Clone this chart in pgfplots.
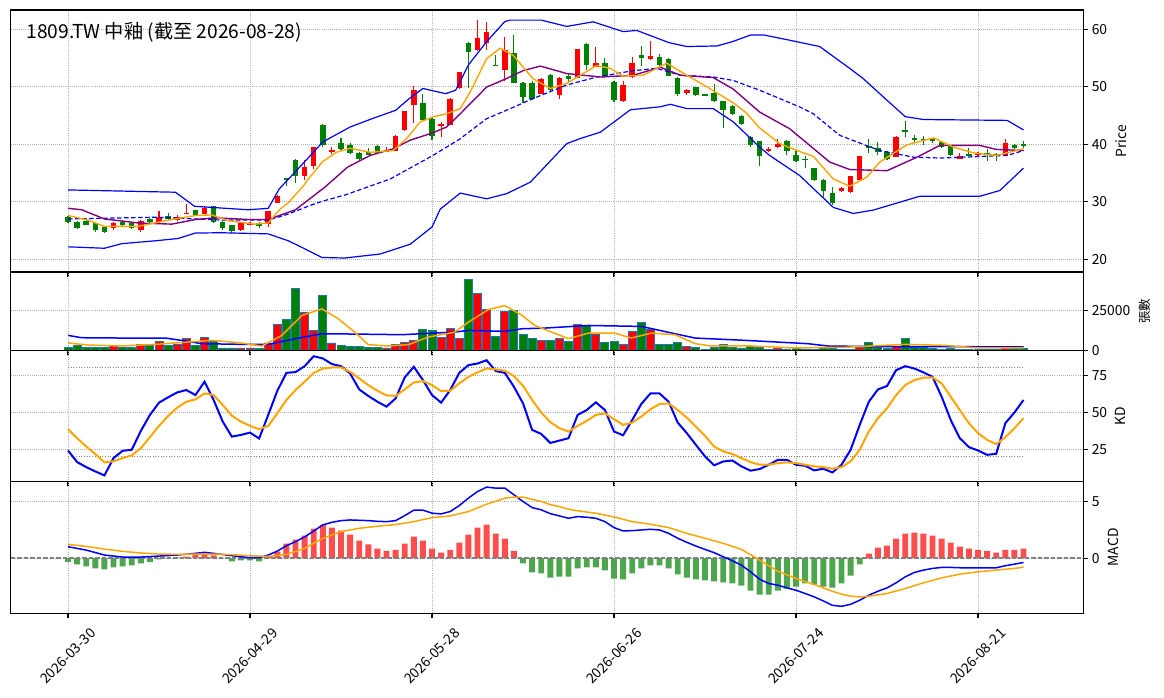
\documentclass[border=0pt]{standalone}
\usepackage{fontspec}
\setmainfont{Noto Sans CJK TC}
\usepackage{pgfplots}
\usepackage{pgfplotstable}
\pgfplotsset{compat=1.18}
\definecolor{cred}{RGB}{255,0,0}
\definecolor{cgreen}{RGB}{0,128,0}
\definecolor{corange}{RGB}{255,165,0}
\definecolor{cpurple}{RGB}{128,0,128}
\definecolor{cblue}{RGB}{0,0,255}
\definecolor{cedge}{RGB}{31,119,180}
\definecolor{hred}{RGB}{255,77,77}
\definecolor{hgreen}{RGB}{77,166,77}
\definecolor{gridc}{RGB}{176,176,176}
\newcommand\tf{\fontsize{13.9pt}{16pt}\selectfont}

\pgfplotstableread{
i o h l c v
0 27.3 27.5 26.3 26.5 1900
1 26.5 26.6 25.2 25.4 3100
2 26.7 26.9 25.9 26.0 1900
3 26.3 26.4 24.8 25.0 1900
4 25.6 25.7 24.5 24.7 1900
5 25.4 26.5 25.1 26.3 3100
6 26.4 26.9 25.8 25.9 1900
7 26.3 26.5 25.3 25.5 1900
8 25.0 26.8 24.7 26.7 3750
9 27.0 27.2 26.3 26.4 3100
10 26.4 28.4 26.3 27.4 5600
11 27.6 28.1 26.9 27.0 3100
12 26.9 27.7 26.6 27.3 3750
13 27.9 29.6 27.9 28.0 7300
14 28.5 28.6 27.5 27.6 3100
15 27.9 29.2 27.8 28.9 8100
16 29.2 29.3 26.3 26.5 5600
17 26.5 26.6 25.1 25.4 1450
18 25.9 26.0 24.5 24.95 1450
19 25.05 26.5 24.9 26.4 1450
20 26.0 26.5 25.9 26.3 1450
21 26.3 26.4 25.5 25.7 1050
22 26.1 28.4 25.6 28.3 4600
23 29.8 31.1 29.7 31.0 16250
24 34.05 34.1 32.8 33.95 19400
25 37.3 37.4 33.3 34.4 38950
26 34.4 37.2 33.7 36.0 23750
27 36.2 39.6 35.7 39.5 12500
28 43.4 43.6 39.6 39.9 34400
29 38.8 39.6 38.3 39.0 4600
30 40.3 41.0 39.0 39.1 3100
31 39.9 40.3 38.3 38.4 2500
32 38.5 38.6 37.0 37.5 2500
33 38.6 39.3 38.1 38.2 1900
34 39.7 39.8 38.3 38.4 1900
35 38.8 39.6 38.7 39.0 1450
36 38.9 41.6 38.8 41.5 3750
37 42.4 45.8 42.3 45.7 5000
38 46.8 50.1 43.7 49.4 6450
39 47.1 48.7 44.2 44.3 13100
40 44.4 44.5 40.8 41.5 12500
41 43.1 43.9 41.2 43.6 8100
42 43.4 48.0 43.3 47.9 13750
43 49.7 52.6 49.6 52.5 7300
44 57.7 57.8 49.7 56.0 44350
45 56.4 61.6 56.3 58.4 36000
46 57.7 61.2 56.4 59.5 25400
47 53.8 55.5 53.6 53.7 8750
48 52.9 58.6 51.0 56.4 24400
49 55.8 59.0 50.6 50.7 25000
50 50.7 50.8 47.1 48.2 10000
51 50.7 51.0 47.7 47.8 7500
52 48.8 51.5 48.7 51.4 6250
53 52.1 52.2 49.3 49.4 6250
54 48.5 51.7 47.9 51.6 7700
55 51.85 52.2 50.9 51.3 5600
56 51.6 56.6 51.5 56.5 16250
57 57.4 57.7 53.0 53.8 15600
58 53.5 56.9 53.4 54.2 10000
59 54.2 55.0 51.6 51.7 5000
60 50.9 51.0 47.4 47.7 5600
61 47.5 51.0 47.4 50.3 3750
62 51.7 55.2 51.6 54.2 11900
63 55.5 57.1 53.7 55.05 17500
64 54.8 57.9 54.7 55.3 13100
65 55.2 55.7 53.7 53.8 3750
66 54.9 55.0 51.8 51.9 3750
67 51.6 51.7 48.4 48.7 5000
68 49.0 49.6 48.5 49.5 2500
69 49.9 50.0 48.4 48.5 1900
70 48.7 48.8 48.5 48.6 300
71 49.0 50.4 47.4 47.5 1900
72 47.5 47.6 42.9 46.0 3750
73 46.7 46.8 45.1 45.2 1900
74 45.0 45.1 43.4 43.5 1450
75 41.3 41.4 39.5 39.8 2500
76 40.5 40.6 36.2 37.9 1900
77 38.75 39.5 38.7 39.2 600
78 39.5 40.9 39.4 40.1 1250
79 40.6 40.7 38.2 38.9 600
80 38.2 38.9 36.9 37.0 1250
81 37.4 37.9 35.8 37.3 600
82 35.8 35.9 33.6 33.7 600
83 33.8 34.0 30.9 31.9 1900
84 31.5 32.5 29.5 29.8 1250
85 31.9 32.5 31.7 32.4 600
86 31.75 34.5 31.6 34.4 600
87 33.7 38.0 33.6 37.95 1900
88 39.7 40.9 38.4 39.5 5000
89 39.3 40.4 38.1 38.6 1900
90 38.6 38.9 37.3 37.4 1250
91 37.8 41.4 37.7 41.3 2500
92 42.4 44.0 41.3 42.1 7500
93 41.0 41.6 40.4 40.7 1900
94 40.9 41.4 39.9 40.8 1900
95 40.9 41.0 40.3 40.6 1250
96 40.4 40.5 39.3 39.5 600
97 39.7 39.8 38.0 38.05 1250
98 37.5 38.5 37.4 37.9 600
99 38.3 39.4 38.0 38.05 600
100 38.05 38.6 37.9 38.5 600
101 38.5 39.2 37.1 38.2 600
102 38.3 38.4 37.1 38.2 600
103 37.95 40.9 37.9 40.2 1250
104 39.9 40.1 39.2 39.3 1250
105 40.1 40.5 39.3 39.8 1250
}\candles

\pgfplotstableread{
i k d h
0 24.2 38.6 -0.33
1 16.4 32.5 -0.57
2 13.0 26.9 -0.74
3 10.1 21.8 -0.92
4 7.4 16.2 -1.01
5 19.1 16.9 -0.83
6 24.0 19.1 -0.74
7 24.7 20.9 -0.65
8 37.4 25.8 -0.48
9 48.2 33.2 -0.36
10 56.5 40.8 -0.12
11 60.1 47.5 -0.03
12 63.4 53.1 0.03
13 65.0 57.1 0.12
14 61.6 58.7 0.27
15 70.6 62.7 0.42
16 58.3 61.6 0.24
17 43.7 54.9 0.02
18 33.6 47.7 -0.30
19 34.7 43.7 -0.21
20 36.3 40.8 -0.21
21 32.3 38.6 -0.30
22 48.2 40.8 0.12
23 64.5 49.3 0.57
24 76.6 58.3 1.28
25 77.1 65.0 1.64
26 81.1 70.6 1.99
27 87.8 76.6 2.62
28 86.3 79.5 2.95
29 82.5 80.2 2.71
30 81.1 80.2 2.44
31 76.2 77.3 2.08
32 65.4 72.8 1.55
33 61.0 68.3 1.22
34 57.1 64.5 0.83
35 53.8 61.4 0.65
36 59.4 61.0 0.74
37 73.5 65.4 1.28
38 80.7 70.1 1.90
39 71.7 71.0 1.55
40 61.6 68.3 0.83
41 56.5 64.3 0.48
42 65.0 64.5 0.74
43 76.6 69.5 1.37
44 81.8 73.9 2.08
45 82.9 76.9 2.71
46 85.1 79.5 2.98
47 77.8 78.9 2.17
48 76.6 78.0 1.73
49 67.2 74.4 0.65
50 56.0 67.9 -0.48
51 38.1 58.3 -1.28
52 35.4 49.8 -1.37
53 29.3 43.4 -1.73
54 30.9 39.2 -1.64
55 32.5 37.0 -1.64
56 48.2 40.8 -0.92
57 51.5 44.2 -0.83
58 56.7 48.2 -0.83
59 51.5 49.3 -1.10
60 37.0 45.3 -1.82
61 34.5 41.5 -1.90
62 44.8 43.0 -1.37
63 55.6 47.1 -0.92
64 62.7 52.0 -0.65
65 62.7 55.6 -0.65
66 57.1 56.0 -0.92
67 43.0 51.5 -1.46
68 35.9 46.4 -1.73
69 28.0 40.3 -1.90
70 20.2 34.1 -1.99
71 14.2 26.9 -2.08
72 16.8 23.6 -2.17
73 17.5 21.8 -2.26
74 13.5 19.1 -2.44
75 10.6 16.4 -2.89
76 11.7 14.6 -3.24
77 14.6 14.6 -3.24
78 17.9 15.7 -2.89
79 17.9 16.2 -2.71
80 14.6 15.7 -2.53
81 13.9 14.6 -2.26
82 10.8 13.5 -2.35
83 11.9 13.0 -2.53
84 9.4 11.9 -2.62
85 14.6 13.0 -2.26
86 24.7 16.9 -1.55
87 41.5 24.7 -0.57
88 57.1 37.0 0.39
89 65.4 46.0 0.92
90 67.7 52.7 1.10
91 78.4 61.6 1.73
92 81.1 68.3 2.17
93 79.5 71.7 2.26
94 76.9 73.3 2.17
95 73.9 73.5 1.99
96 60.5 69.5 1.73
97 44.8 60.5 1.37
98 32.5 51.5 1.01
99 26.5 42.6 0.83
100 24.2 35.9 0.74
101 21.3 31.4 0.65
102 22.0 28.5 0.48
103 42.6 33.2 0.74
104 49.8 39.2 0.74
105 58.3 46.0 0.83
}\ind

\pgfplotsset{
 base/.style={
  scale only axis, width=1072.6pt,
  anchor=north west,
  xmin=-6.30, xmax=111.57,
  xtick={0,20,40,60,80,100},
  ytick pos=right, yticklabel pos=right,
  xtick pos=left,
  scaled y ticks=false,
  tick align=outside, major tick length=4.9pt,
  tick style={black, line width=1.1pt},
  axis line style={line width=1.1pt},
  grid=major,
  grid style={gridc, line width=0.8pt, dash pattern=on 0.8pt off 1.3pt},
  ticklabel style={font=\tf},
  label style={font=\tf},
 },
 candle/.style n args={2}{draw=none, mark=none, forget plot,
  error bars/.cd, y dir=both, y explicit, error mark=none,
  error bar style={draw=#1, line width=#2}},
}

\begin{document}
\begin{tikzpicture}
\path[use as bounding box] (0,0) rectangle (1164pt,698pt);

% ---------------- price ----------------
\begin{axis}[base, at={(10.7pt,688pt)}, height=262pt,
  ymin=17.77, ymax=63.36, ytick={20,30,40,50,60}, yticklabels={20,30,40,50,60},
  xticklabels={},
  ylabel={Price}, ylabel style={at={(axis description cs:1.0351,0.5)}, anchor=center}]
% candles up
\addplot[restrict expr to domain={\thisrow{c}-\thisrow{o}}{0:100}, candle={cred}{1.1pt}]
  table[x=i, y expr={(\thisrow{h}+\thisrow{l})/2}, y error expr={(\thisrow{h}-\thisrow{l})/2}] {\candles};
\addplot[restrict expr to domain={\thisrow{c}-\thisrow{o}}{0:100}, candle={cred}{5.5pt}]
  table[x=i, y expr={(\thisrow{o}+\thisrow{c})/2}, y error expr={max(abs(\thisrow{c}-\thisrow{o})/2,0.05)}] {\candles};
% candles down
\addplot[restrict expr to domain={\thisrow{c}-\thisrow{o}}{-100:-0.00001}, candle={cgreen}{1.1pt}]
  table[x=i, y expr={(\thisrow{h}+\thisrow{l})/2}, y error expr={(\thisrow{h}-\thisrow{l})/2}] {\candles};
\addplot[restrict expr to domain={\thisrow{c}-\thisrow{o}}{-100:-0.00001}, candle={cgreen}{5.5pt}]
  table[x=i, y expr={(\thisrow{o}+\thisrow{c})/2}, y error expr={max(abs(\thisrow{c}-\thisrow{o})/2,0.05)}] {\candles};
% Bollinger upper
\addplot[cblue, line width=1.2pt, no marks] coordinates {
(0,32.05) (11.8,31.65) (13.9,29.2) (19.8,28.6) (22,28.85) (23.2,32.2) (25.8,36.6) (28,40.4) (31,43.0) (33.5,44.5) (36,45.9) (37.5,47.95) (39,49.7) (41.5,48.8) (42.6,49.4) (44,53.8) (46,57.85) (48,61.35) (48.6,61.6) (52,61.6) (54.8,60.5) (57.7,61.3) (61,59.6) (62.5,59.8) (66,57.7) (68,57.0) (71.3,57.1) (73,57.85) (75,59.0) (76.5,59.0) (79.3,58.1) (82.6,57.0) (85.9,53.2) (87.4,51.4) (90,47.65) (92,44.8) (94,44.3) (103.2,44.15) (105,42.5)};
% Bollinger lower
\addplot[cblue, line width=1.2pt, no marks] coordinates {
(0,22.15) (4,21.9) (5.9,22.7) (9.6,23.2) (12.1,23.6) (14,24.55) (16.9,24.6) (22,24.4) (24.2,23.2) (25.7,22.05) (27.9,20.3) (30.4,20.2) (34.3,20.9) (37.6,22.6) (40,25.6) (40.9,28.7) (43.1,31.5) (46,30.5) (48.2,31.4) (50.8,33.4) (54.8,40.1) (56.3,41.0) (58.5,42.1) (61.8,46.0) (65,46.5) (66.2,46.95) (68,46.2) (70.9,46.2) (73.1,43.9) (76,39.5) (77.1,38.05) (80.4,34.55) (84.1,29.0) (86.3,27.95) (88.5,28.55) (93.6,30.95) (100.2,30.95) (102.4,31.95) (105,35.85)};
% MA20 dashed
\addplot[cblue, line width=1.2pt, no marks, dash pattern=on 4.5pt off 2.5pt] coordinates {
(0,27.0) (9.6,27.3) (17,26.8) (22,26.8) (24.2,27.85) (26.6,29.35) (28,30.1) (30.5,31.2) (35.4,33.95) (40.1,38.05) (43.1,40.96) (46,44.45) (48.6,46.2) (51.1,47.95) (54.8,50.3) (58.1,51.7) (62.1,52.8) (64.7,53.2) (67.3,52.0) (70.9,51.7) (73.1,51.1) (76,49.4) (80.4,46.5) (81.9,45.3) (84.8,41.55) (86.7,40.4) (89.2,38.9) (92.9,37.75) (95.8,37.6) (103.2,38.05) (105,38.9)};
% MA10 purple
\addplot[cpurple, line width=1.4pt, no marks] coordinates {
(0,28.85) (1.5,28.6) (4,27.0) (7.7,26.3) (11.4,26.1) (14,26.9) (16.2,27.2) (19.8,26.9) (22,26.9) (25,28.6) (28.2,32.5) (30.7,36.0) (33.2,38.05) (35.7,39.2) (37.6,40.7) (40.1,42.0) (41.6,43.0) (43.1,45.3) (46,49.95) (48,51.3) (50,52.8) (51.9,53.6) (54.8,52.3) (58.5,51.7) (62.1,52.0) (65.1,53.4) (67.3,52.0) (70.9,51.6) (73.1,49.6) (76,45.6) (79.3,42.7) (83.7,36.9) (85.9,35.6) (90,35.4) (93.3,37.75) (95.8,39.8) (100.2,39.8) (102,39.1) (105,38.9)};
% MA5 orange
\addplot[corange, line width=1.4pt, no marks] coordinates {
(0,27.6) (2.2,26.8) (4,25.7) (7.7,25.7) (10.7,26.7) (14,27.6) (15.8,27.7) (17.6,26.7) (20.5,26.1) (22,26.3) (23.3,28.7) (24.2,29.8) (25.9,32.8) (26.4,33.95) (28,37.0) (29.5,38.6) (31,39.3) (33.2,38.6) (35.7,38.9) (37.2,40.96) (38.7,43.9) (40.2,44.8) (41.6,45.3) (43.1,46.2) (44.2,49.1) (46,54.9) (47.5,56.7) (48.9,55.5) (51.1,51.4) (53,49.7) (54.8,50.6) (56.6,52.3) (58.1,53.7) (59.6,53.2) (61,51.85) (63.2,52.0) (65.8,54.1) (68,52.0) (70.2,50.0) (73.1,47.2) (74.5,45.5) (76,42.85) (78.2,40.1) (80.8,38.5) (81.9,37.9) (84.1,33.95) (85.9,32.7) (87.8,34.3) (89.2,36.9) (92.2,39.9) (95.1,41.1) (97.3,39.5) (99.5,38.5) (102,38.05) (105,39.2)};
\node[anchor=west, inner sep=0pt, font=\fontsize{19.2pt}{21pt}\selectfont] at (rel axis cs:0.0145,0.915) {1809.TW 中釉 (截至 2026-08-28)};
\end{axis}

% ---------------- volume ----------------
\begin{axis}[base, at={(10.7pt,426pt)}, height=78.3pt,
  ymin=0, ymax=49200, ytick={0,25000}, yticklabels={0,25000},
  xticklabels={},
  ylabel={\fontsize{12.5pt}{14pt}\selectfont 張數}, ylabel style={at={(axis description cs:1.0575,0.5)}, anchor=center}]
\addplot[ybar, bar width=0.88, bar shift=0pt, fill=cred, draw=cedge, line width=0.9pt,
  restrict expr to domain={\thisrow{c}-\thisrow{o}}{0:100}] table[x=i, y=v] {\candles};
\addplot[ybar, bar width=0.88, bar shift=0pt, fill=cgreen, draw=cedge, line width=0.9pt,
  restrict expr to domain={\thisrow{c}-\thisrow{o}}{-100:-0.00001}] table[x=i, y=v] {\candles};
\addplot[cblue, line width=1.5pt, no marks] coordinates {
(0,9375) (1.5,7900) (5.9,7700) (10.7,7700) (13.2,5600) (14.7,4150) (19,3750) (22,3750) (25,7300) (27.9,10400) (31.5,10200) (36.7,9800) (42.5,11450) (44,12500) (48,11900) (49.9,13540) (52.4,13960) (57.2,15600) (63,15000) (66.7,10400) (68.9,7700) (74.4,6250) (81.3,4160) (83.5,2700) (89,2300) (96.4,2300) (105,2100)};
\addplot[corange, line width=1.5pt, no marks] coordinates {
(0,4600) (2.2,3300) (5.9,2700) (9.6,3750) (13.2,5200) (15.8,6250) (19,4600) (21.3,2700) (23.5,9375) (25.7,21900) (27.9,26000) (29.7,19800) (31.5,11450) (33,3540) (35.2,2700) (37.4,3540) (39.6,8300) (42.5,11450) (44,17700) (46.2,25600) (48,28100) (49.9,21900) (51.3,15600) (52.4,13100) (55,7300) (57.2,10800) (60.1,10800) (61.9,7700) (64.1,10800) (66.7,9800) (68.9,4160) (70.7,2700) (75.1,2700) (79.9,1460) (85.4,1900) (92,3750) (96.4,3100) (100,1460) (105,1460)};
\end{axis}

% ---------------- KD ----------------
\begin{axis}[base, at={(10.7pt,347.7pt)}, height=131.2pt,
  ymin=3.3, ymax=91.8, ytick={25,50,75}, yticklabels={25,50,75},
  xticklabels={},
  ylabel={KD}, ylabel style={at={(axis description cs:1.0342,0.5)}, anchor=center}]
\addplot[gray, line width=1pt, no marks, dash pattern=on 1pt off 1.65pt] coordinates {(0,80) (105,80)};
\addplot[gray, line width=1pt, no marks, dash pattern=on 1pt off 1.65pt] coordinates {(0,20) (105,20)};
\addplot[cblue, line width=2pt, no marks] table[x=i, y=k] {\ind};
\addplot[corange, line width=2pt, no marks] table[x=i, y=d] {\ind};
\end{axis}

% ---------------- MACD ----------------
\begin{axis}[base, at={(10.7pt,216.5pt)}, height=131.8pt,
  ymin=-4.91, ymax=6.81, ytick={0,5}, yticklabels={0,5},
  xticklabels={2026-03-30,2026-04-29,2026-05-28,2026-06-26,2026-07-24,2026-08-21},
  xticklabel style={anchor=center, yshift=-38pt, rotate=45},
  ylabel={MACD}, ylabel style={at={(axis description cs:1.0277,0.5)}, anchor=center}]
\addplot[ybar, bar width=0.65, bar shift=0pt, fill=hred, draw=none,
  restrict y to domain=0:100] table[x=i, y=h] {\ind};
\addplot[ybar, bar width=0.65, bar shift=0pt, fill=hgreen, draw=none,
  restrict y to domain=-100:0] table[x=i, y=h] {\ind};
\addplot[gray, line width=1.2pt, no marks, dash pattern=on 4.5pt off 2pt] coordinates {(-6.3,0) (111.57,0)};
\addplot[cblue, line width=1.5pt, no marks] coordinates {
(0,1.01) (2,0.71) (4,0.27) (6,0.09) (8,0.09) (10,0.18) (12,0.27) (14,0.42) (15,0.51) (16,0.42) (18,0.21) (20,0.03) (21,0.03) (22,0.27) (23,0.62) (24,1.10) (25,1.46) (26,1.88) (27,2.41) (28,2.95) (29,3.18) (30,3.33) (31,3.39) (32,3.36) (33,3.33) (34,3.27) (35,3.24) (36,3.33) (37,3.78) (38,4.26) (39,4.26) (40,3.99) (41,3.93) (42,4.14) (43,4.67) (44,5.33) (45,5.92) (46,6.31) (47,6.22) (48,6.22) (49,5.63) (50,5.03) (51,4.49) (52,4.29) (53,3.95) (54,3.75) (55,3.54) (56,3.69) (57,3.63) (58,3.54) (59,3.24) (60,2.71) (61,2.41) (62,2.44) (63,2.50) (64,2.56) (65,2.50) (66,2.20) (67,1.76) (68,1.40) (69,1.07) (70,0.77) (71,0.48) (72,0.12) (73,-0.24) (74,-0.63) (75,-1.22) (76,-1.88) (77,-2.26) (78,-2.41) (79,-2.65) (80,-2.86) (81,-3.15) (82,-3.45) (83,-3.81) (84,-4.20) (85,-4.29) (86,-4.11) (87,-3.75) (88,-3.30) (89,-2.95) (90,-2.65) (91,-2.20) (92,-1.67) (93,-1.28) (94,-1.07) (95,-0.92) (96,-0.83) (97,-0.83) (98,-0.86) (99,-0.86) (100,-0.86) (101,-0.86) (102,-0.86) (103,-0.68) (104,-0.54) (105,-0.39)};
\addplot[corange, line width=1.5pt, no marks] coordinates {
(0,1.22) (2,1.04) (4,0.80) (6,0.60) (8,0.45) (10,0.36) (12,0.33) (14,0.36) (16,0.36) (18,0.30) (20,0.21) (22,0.15) (24,0.33) (26,0.86) (28,1.76) (30,2.35) (32,2.65) (34,2.83) (36,2.98) (38,3.24) (40,3.60) (42,3.75) (44,4.14) (46,4.79) (48,5.33) (49,5.42) (50,5.42) (52,5.03) (53,4.75) (54,4.58) (55,4.35) (56,4.20) (58,3.99) (60,3.66) (62,3.24) (64,3.01) (66,2.71) (68,2.20) (70,1.76) (72,1.31) (74,0.77) (76,-0.18) (78,-1.16) (80,-1.82) (82,-2.35) (84,-2.95) (85,-3.21) (86,-3.39) (87,-3.45) (88,-3.39) (90,-3.15) (92,-2.71) (94,-2.20) (96,-1.76) (98,-1.43) (100,-1.22) (102,-1.07) (104,-0.92) (105,-0.80)};
\end{axis}
\end{tikzpicture}
\end{document}
